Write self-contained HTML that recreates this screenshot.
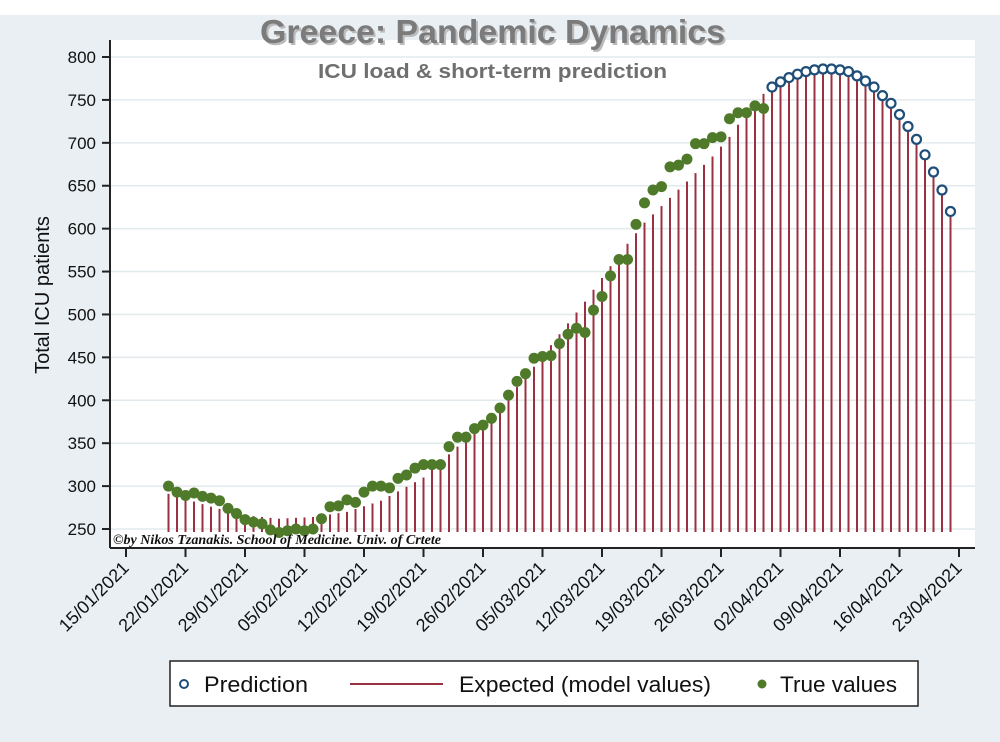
<!DOCTYPE html>
<html><head><meta charset="utf-8"><style>
body{margin:0;background:#fff}
svg{display:block;font-family:"Liberation Sans",sans-serif}
</style></head><body>
<svg id="s" width="1000" height="742" viewBox="0 0 1000 742" xmlns="http://www.w3.org/2000/svg">
<rect x="0" y="15" width="1000" height="727" fill="#e9eff3"/>
<rect x="110" y="40" width="865" height="508" fill="#fff"/>
<g id="grid"></g>
<g id="stems"></g>
<g id="pts"></g>
<line x1="110" y1="40" x2="110" y2="548" stroke="#222" stroke-width="2"/>
<line x1="110" y1="548" x2="975" y2="548" stroke="#222" stroke-width="2"/>
<g id="axes" font-size="17" fill="#111"></g>
<text x="260" y="43" font-size="33" font-weight="bold" fill="#bbb" transform="translate(2,2)" textLength="465" lengthAdjust="spacingAndGlyphs">Greece: Pandemic Dynamics</text>
<text x="260" y="43" font-size="33" font-weight="bold" fill="#7b7b7b" textLength="465" lengthAdjust="spacingAndGlyphs">Greece: Pandemic Dynamics</text>
<text x="318" y="78" font-size="20" font-weight="bold" fill="#6f6f6f" textLength="349" lengthAdjust="spacingAndGlyphs">ICU load &amp; short-term prediction</text>
<text transform="translate(49,295) rotate(-90)" text-anchor="middle" font-size="20" fill="#111">Total ICU patients</text>
<text x="113" y="544" font-family="Liberation Serif,serif" font-style="italic" font-weight="bold" font-size="14" fill="#111" textLength="328" lengthAdjust="spacingAndGlyphs">©by Nikos Tzanakis. School of Medicine. Univ. of Crtete</text>
<rect x="170" y="661" width="748" height="45" fill="#fff" stroke="#222" stroke-width="1.5"/>
<circle cx="184" cy="684" r="4" fill="#fff" stroke="#1f4e79" stroke-width="2"/>
<text x="204" y="692" font-size="22" fill="#111" textLength="104" lengthAdjust="spacingAndGlyphs">Prediction</text>
<line x1="350" y1="684" x2="443" y2="684" stroke="#9b3040" stroke-width="2"/>
<text x="459" y="692" font-size="22" fill="#111" textLength="252" lengthAdjust="spacingAndGlyphs">Expected (model values)</text>
<circle cx="762" cy="684" r="4.5" fill="#4e7a2a"/>
<text x="780" y="692" font-size="22" fill="#111" textLength="117" lengthAdjust="spacingAndGlyphs">True values</text>
</svg>
<script>
var NS="http://www.w3.org/2000/svg";
function el(p,t,a,txt){var e=document.createElementNS(NS,t);for(var k in a)e.setAttribute(k,a[k]);if(txt)e.textContent=txt;document.getElementById(p).appendChild(e);return e;}
function Y(v){return 57+(800-v)*0.8582;}
function X(d){return 126+d*8.5;}
for(var v=250;v<=800;v+=50){
 el("grid","line",{x1:111,x2:975,y1:Y(v),y2:Y(v),stroke:"#e3eaee","stroke-width":1.5});
 el("axes","line",{x1:102,x2:110,y1:Y(v),y2:Y(v),stroke:"#222","stroke-width":2});
 el("axes","text",{x:96,y:Y(v)+6,"text-anchor":"end"},String(v));
}
var labs=["15/01/2021","22/01/2021","29/01/2021","05/02/2021","12/02/2021","19/02/2021","26/02/2021","05/03/2021","12/03/2021","19/03/2021","26/03/2021","02/04/2021","09/04/2021","16/04/2021","23/04/2021"];
labs.forEach(function(l,i){var x=X(i*7);
 el("axes","line",{x1:x,x2:x,y1:548,y2:557,stroke:"#222","stroke-width":2});
 el("axes","text",{transform:"translate("+(x+4)+",569) rotate(-45)","text-anchor":"end","font-size":18},l);
});
var tv=[300,293,289,292,288,286,283,274,268,261,258,256,249,246,248,250,248,250,262,276,277,284,281,293,300,300,298,309,313,321,325,325,325,346,357,357,367,371,379,391,406,422,431,449,451,452,466,477,484,479,505,521,545,564,564,605,630,645,649,672,674,681,699,699,706,707,728,735,735,743,740];
var pr=[765,771,776,780,783,785,786,786,785,783,778,772,765,755,746,733,719,704,686,666,645,620];
var kn=[[5,291],[10,276],[14,266],[18,262],[22,264],[26,270],[30,283],[35,310],[39,346],[44,392],[48,439],[54,515],[58,570],[61,607],[66,655],[69,684],[71,707],[73,735],[75,757]];
function model(d){if(d>=76)return pr[d-76];for(var i=0;i<kn.length-1;i++){if(d<=kn[i+1][0]){var a=kn[i],b=kn[i+1];return a[1]+(b[1]-a[1])*(d-a[0])/(b[0]-a[0]);}}return 757;}
for(var d=5;d<=97;d++){var x=X(d);el("stems","line",{x1:x,x2:x,y1:532,y2:Y(model(d)),stroke:"#9b3040","stroke-width":2});}
tv.forEach(function(v,i){el("pts","circle",{cx:X(5+i),cy:Y(v),r:5.5,fill:"#4e7a2a"});});
pr.forEach(function(v,i){el("pts","circle",{cx:X(76+i),cy:Y(v),r:4.5,fill:"#fff",stroke:"#1f4e79","stroke-width":2.2});});
</script>
</body></html>
